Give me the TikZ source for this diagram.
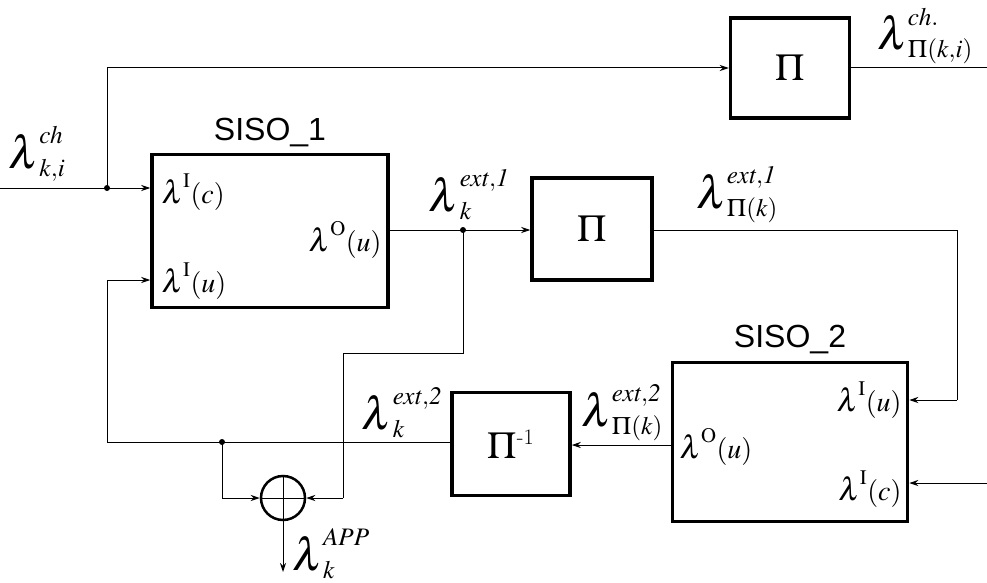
\documentclass[tikz,border=0pt]{standalone}
\usepackage{mathptmx}
\usepackage{graphicx}
\usepackage[no-math]{fontspec}
\newfontfamily\sisofont{Liberation Sans}
\usetikzlibrary{arrows.meta}
\newcommand{\BigLam}{\mbox{\scalebox{1.35}{$\lambda$}}}
\newcommand{\PortLam}{\mbox{\scalebox{1.15}{$\lambda$}}}
\begin{document}
\begin{tikzpicture}[x=1pt,y=-1pt,line width=1pt,>={Stealth[length=9pt,width=6pt]},
  blk/.style={draw,line width=3.5pt,inner sep=0pt,font=\fontsize{38}{40}\selectfont},
  dotn/.style={circle,fill,inner sep=0pt,minimum size=6pt},
  lbl/.style={inner sep=0pt,font=\fontsize{34}{38}\selectfont},
  port/.style={inner sep=0pt,font=\fontsize{28}{32}\selectfont},
  ttl/.style={inner sep=0pt,font=\sisofont\fontsize{32}{36}\selectfont}]
\useasboundingbox (0,0) rectangle (987,583);
% blocks
\node[blk,minimum width=119pt,minimum height=100pt] (pi1) at (790,68) {$\Pi$};
\node[blk,minimum width=236pt,minimum height=153pt] (siso1) at (270,231) {};
\node[blk,minimum width=120pt,minimum height=102pt] (pi2) at (592,229) {$\Pi$};
\node[blk,minimum width=235pt,minimum height=159pt] (siso2) at (790,442) {};
\node[blk,minimum width=118pt,minimum height=103pt] (pi3) at (511,444) {$\Pi^{\mbox{\fontsize{22}{24}\selectfont -1}}$};
\node[circle,draw,line width=2.5pt,minimum size=44pt,inner sep=0pt] (add) at (283,498) {};
\draw (add.north) -- (add.south) (add.west) -- (add.east);
% titles
\node[ttl] (t1) at (270,133) {SISO\_1};
\node[ttl] (t2) at (790,340) {SISO\_2};
% ports
\node[port,anchor=west] (p1c) at (161,192) {$\PortLam^{\mathrm{I}}(c)$};
\node[port,anchor=west] (p1u) at (161,281) {$\PortLam^{\mathrm{I}}(u)$};
\node[port,anchor=east] (p1o) at (382,240) {$\PortLam^{\mathrm{O}}(u)$};
\node[port,anchor=east] (p2u) at (902,400) {$\PortLam^{\mathrm{I}}(u)$};
\node[port,anchor=east] (p2c) at (902,489) {$\PortLam^{\mathrm{I}}(c)$};
\node[port,anchor=west] (p2o) at (679,447) {$\PortLam^{\mathrm{O}}(u)$};
% coordinates
\coordinate (in1) at (0,188);
\coordinate (out1) at (987,68);
\coordinate (in2) at (987,483);
\coordinate (c1) at (957,230);
\coordinate (c2) at (957,400);
\coordinate (c3) at (107,442);
\coordinate (c4) at (107,280);
\coordinate (c5) at (463,353);
\coordinate (c6) at (343,353);
\coordinate (c7) at (343,498);
\coordinate (c8) at (222,498);
\coordinate (o2) at (673,445);
\coordinate (aout) at (283,572);
\node[dotn] (d1) at (107,188) {};
\node[dotn] (d2) at (463,230) {};
\node[dotn] (d3) at (222,442) {};
% connectors
\draw[->] (in1) -- (siso1.west |- in1);
\draw[->] (d1.center) |- (pi1.west);
\draw (pi1.east) -- (out1);
\draw[->] (siso1.east |- d2) -- (pi2.west |- d2);
\draw (pi2.east |- c1) -- (c1) -- (c2);
\draw[->] (c2) -- (siso2.east |- c2);
\draw[->] (in2) -- (siso2.east |- in2);
\draw[->] (o2) -- (pi3.east |- o2);
\draw (pi3.west |- c3) -- (c3) -- (c4);
\draw[->] (c4) -- (siso1.west |- c4);
\draw (d3.center) -- (c8);
\draw[->] (c8) -- (add.west);
\draw (d2.center) -- (c5) -- (c6) -- (c7);
\draw[->] (c7) -- (add.east);
\draw[->] (add.south) -- (aout);
% labels
\node[lbl] (l1) at (37,154) {$\BigLam^{\mathit{ch}}_{k,i}$};
\node[lbl] (l2) at (925,36) {$\BigLam^{\mathit{ch.}}_{\Pi(k,i)}$};
\node[lbl] (l3) at (469,195) {$\BigLam^{\mathit{ext,1}}_{k}$};
\node[lbl] (l4) at (737,195) {$\BigLam^{\mathit{ext,1}}_{\Pi(k)}$};
\node[lbl] (l5) at (402,413) {$\BigLam^{\mathit{ext,2}}_{k}$};
\node[lbl] (l6) at (622,413) {$\BigLam^{\mathit{ext,2}}_{\Pi(k)}$};
\node[lbl] (l7) at (331,554) {$\BigLam^{\mathit{APP}}_{k}$};
\end{tikzpicture}
\end{document}
